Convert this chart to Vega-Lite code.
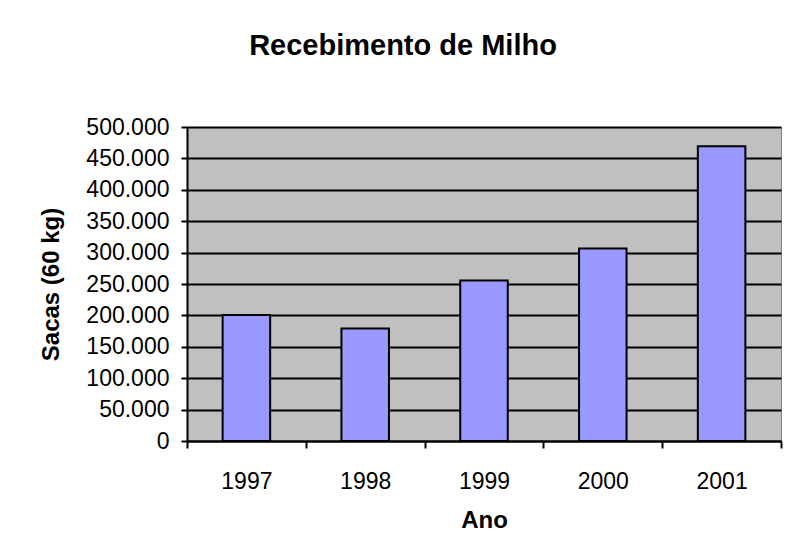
{
  "$schema": "https://vega.github.io/schema/vega-lite/v6.json",
  "width": 594,
  "height": 314,
  "autosize": {"type": "none"},
  "padding": {"left": 187, "top": 127, "right": 10, "bottom": 115},
  "background": "white",
  "title": {
    "text": "Recebimento de Milho",
    "font": "Liberation Sans",
    "fontSize": 29,
    "fontWeight": "bold",
    "color": "black",
    "anchor": "middle",
    "frame": "group",
    "dx": -81,
    "baseline": "alphabetic",
    "offset": 32
  },
  "data": {
    "values": [
      {"Ano": "1997", "Sacas": 200500},
      {"Ano": "1998", "Sacas": 179000},
      {"Ano": "1999", "Sacas": 255500},
      {"Ano": "2000", "Sacas": 306500},
      {"Ano": "2001", "Sacas": 469500}
    ]
  },
  "mark": {"type": "bar", "fill": "#9999FF", "stroke": "black", "strokeWidth": 2, "width": {"band": 0.4}},
  "encoding": {
    "x": {
      "field": "Ano",
      "type": "ordinal",
      "scale": {"paddingInner": 0, "paddingOuter": 0},
      "axis": {
        "labelAngle": 0,
        "tickBand": "extent",
        "tickSize": 7,
        "tickColor": "black",
        "tickWidth": 2,
        "domainColor": "black",
        "domainWidth": 2,
        "grid": false,
        "labelFont": "Liberation Sans",
        "labelFontSize": 23,
        "labelColor": "black",
        "labelPadding": 22,
        "title": "Ano",
        "titleFont": "Liberation Sans",
        "titleFontSize": 24,
        "titleFontWeight": "bold",
        "titleColor": "black",
        "titlePadding": 15
      }
    },
    "y": {
      "field": "Sacas",
      "type": "quantitative",
      "scale": {"domain": [0, 500000], "nice": false},
      "axis": {
        "values": [0, 50000, 100000, 150000, 200000, 250000, 300000, 350000, 400000, 450000, 500000],
        "labelExpr": "replace(format(datum.value, ','), ',', '.')",
        "tickSize": 6,
        "tickColor": "black",
        "tickWidth": 2,
        "domainColor": "black",
        "domainWidth": 2,
        "gridColor": "black",
        "gridWidth": 2,
        "labelFont": "Liberation Sans",
        "labelFontSize": 23,
        "labelColor": "black",
        "labelPadding": 12,
        "title": "Sacas (60 kg)",
        "titleFont": "Liberation Sans",
        "titleFontSize": 24,
        "titleFontWeight": "bold",
        "titleColor": "black",
        "titlePadding": 22
      }
    }
  },
  "config": {"view": {"fill": "#C0C0C0", "stroke": "#808080", "strokeWidth": 1}}
}
